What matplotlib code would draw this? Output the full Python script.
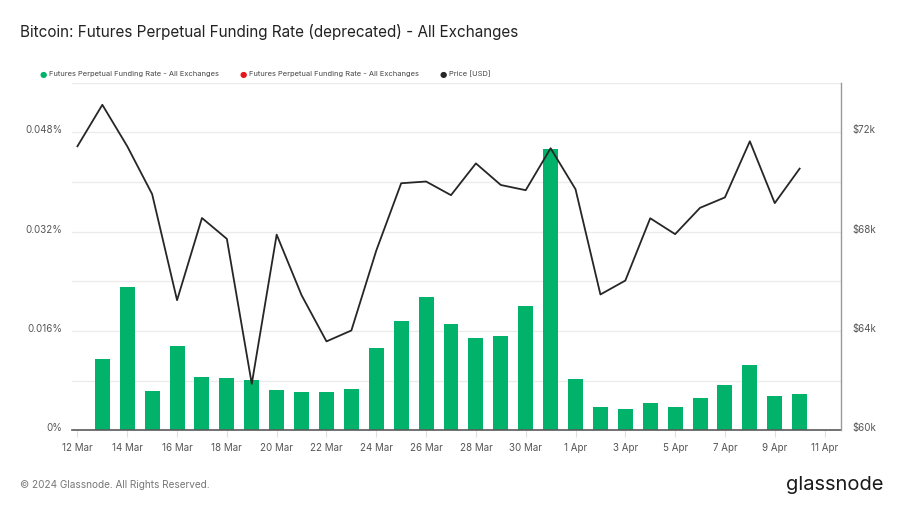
import numpy as np
import pandas as pd
import matplotlib
matplotlib.use("Agg")
import matplotlib.pyplot as plt
import matplotlib.dates as mdates
from matplotlib.transforms import ScaledTranslation

plt.rcParams['font.family'] = ['Inter', 'DejaVu Sans']

# price, daily 12 Mar - 10 Apr 2024
price_dates = pd.date_range("2024-03-12", "2024-04-10", freq="D")
price = [71440, 73110, 71440, 69510, 65240, 68550, 67710, 61870, 67880, 65440,
         63580, 64020, 67240, 69950, 70020, 69470, 70750, 69880, 69670, 71360,
         69710, 65470, 66030, 68540, 67900, 68960, 69380, 71640, 69150, 70540]

# funding rate in %, daily 13 Mar - 10 Apr 2024
rate_dates = pd.date_range("2024-03-13", "2024-04-10", freq="D")
funding = [0.0115, 0.0231, 0.0063, 0.0135, 0.0086, 0.0085, 0.0081, 0.0065, 0.0061,
           0.0062, 0.0066, 0.0132, 0.0176, 0.0215, 0.0171, 0.0148, 0.0152, 0.0200,
           0.0453, 0.0083, 0.0037, 0.0034, 0.0044, 0.0038, 0.0052, 0.0073, 0.0105,
           0.0055, 0.0058]

tick_dates = pd.date_range("2024-03-12", "2024-04-11", freq="2D")
tick_labels = [d.strftime("%-d %b") for d in tick_dates]

green = "#00b26a"
grid_c = "#ebebeb"
text_c = "#555555"

fig = plt.figure(figsize=(9.04, 5.08), dpi=100)
ax = fig.add_axes([0.0796, 0.1530, 0.8507, 0.6842])
ax2 = ax.twinx()

ax.bar(rate_dates, funding, width=0.6, color=green, zorder=2)
ax2.plot(price_dates, price, color="#262626", lw=1.3, zorder=3)

x0 = mdates.date2num(pd.Timestamp("2024-03-12")) - 0.22
x1 = mdates.date2num(pd.Timestamp("2024-03-12")) + 30.66
ax.set_xlim(x0, x1)
ax.set_ylim(0, 0.056)
ax2.set_ylim(60000, 74000)

ax.set_yticks(np.arange(0, 0.057, 0.008), minor=False)
ax.set_yticklabels(["0%", "", "0.016%", "", "0.032%", "", "0.048%", ""])
ax2.set_yticks([60000, 64000, 68000, 72000])
ax2.set_yticklabels(["$60k", "$64k", "$68k", "$72k"])

ax.set_xticks(tick_dates)
ax.set_xticklabels(tick_labels)

ax.grid(axis="y", color=grid_c, lw=1, zorder=0)
ax.set_axisbelow(True)
ax.tick_params(axis="y", length=0, pad=7, labelsize=7, labelcolor=text_c)
ax2.tick_params(axis="y", length=0, pad=8, labelsize=7, labelcolor=text_c)
ax.tick_params(axis="x", length=5, width=0.8, color="#e0e0e0", pad=4,
               labelsize=7, labelcolor=text_c)
shift = ScaledTranslation(0, 3 / 100, fig.dpi_scale_trans)
for lbl in ax.get_yticklabels() + ax2.get_yticklabels():
    lbl.set_transform(lbl.get_transform() + shift)

for a in (ax, ax2):
    for s in a.spines.values():
        s.set_visible(False)
ax.spines["bottom"].set_visible(True)
ax.spines["bottom"].set_color("#5a5a5a")
ax.spines["bottom"].set_linewidth(1.2)
ax.spines["bottom"].set_zorder(4)
ax2.spines["right"].set_visible(True)
ax2.spines["right"].set_color("#999999")
ax2.spines["right"].set_linewidth(1)
ax.spines["top"].set_visible(True)
ax.spines["top"].set_color(grid_c)

fig.text(20 / 904, 1 - 32 / 508, "Bitcoin: Futures Perpetual Funding Rate (deprecated) - All Exchanges",
         fontsize=11, color="#222222", va="center", ha="left")

legend_items = [("Futures Perpetual Funding Rate - All Exchanges", green, 43),
                ("Futures Perpetual Funding Rate - All Exchanges", "#e8131b", 243),
                ("Price [USD]", "#262626", 443)]
for label, col, px in legend_items:
    fig.text(px / 904, 1 - 74.5 / 508, "\u25cf", color=col, fontsize=6,
             ha="center", va="center", family=["DejaVu Sans"])
    fig.text((px + 6) / 904, 1 - 74 / 508, label, color="#444444", fontsize=5.4,
             ha="left", va="center")

fig.text(20 / 904, 1 - 485 / 508, "\u00a9 2024 Glassnode. All Rights Reserved.",
         fontsize=7.2, color="#777777", va="center", ha="left")
fig.text(884 / 904, 1 - 485 / 508, "glassnode", fontsize=14.5, color="#1a1a1a",
         va="center", ha="right")

fig.savefig("out.png", dpi=100)
